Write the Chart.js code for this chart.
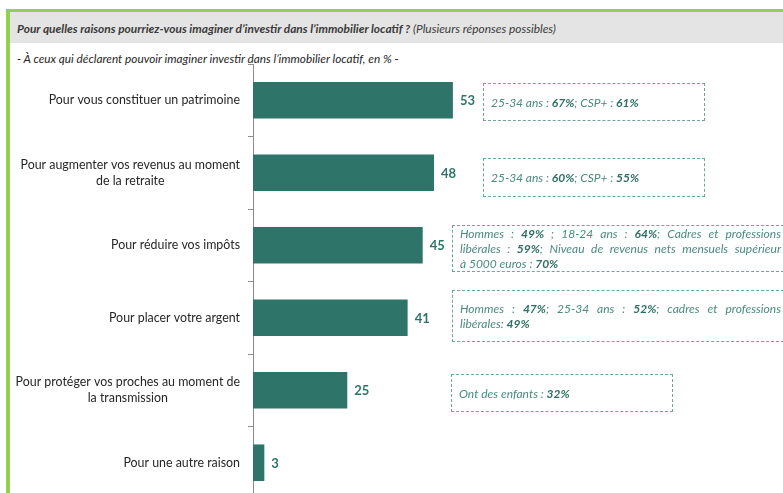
<!DOCTYPE html>
<html>
<head>
<meta charset="utf-8">
<script src="https://cdn.jsdelivr.net/npm/chart.js@4.4.1/dist/chart.umd.min.js"></script>
<style>
  html, body { margin: 0; padding: 0; width: 783px; height: 493px; overflow: hidden; background: #fff; }
  #frame { position: absolute; left: 6px; top: 9px; width: 800px; height: 520px;
           border-top: 3px solid #92D050; border-left: 4px solid #92D050; }
  #band { position: absolute; left: 10px; top: 12px; width: 790px; height: 31px; background: #E4E4E4; }
  #title { position: absolute; left: 17px; top: 21px; font-family: Lato, sans-serif; font-size: 11.9px;
           font-style: italic; color: #3a3a3a; white-space: nowrap; }
  #title b { font-weight: 700; }
  #subtitle { position: absolute; left: 17px; top: 51px; font-family: Lato, sans-serif; font-size: 11.8px;
              font-style: italic; color: #262626; white-space: nowrap; }
  canvas { position: absolute; left: 0; top: 0; }
  .note { position: absolute; box-sizing: border-box; border: 1px dashed #6FA59C;
          display: flex; flex-direction: column; justify-content: center;
          font-family: Lato, sans-serif; font-size: 12px; font-style: italic; color: #4A8A7F;
          line-height: 15px; padding: 0 7px; white-space: nowrap; }
  .note b { color: #2E6F63; font-weight: 700; }
  .note .j { text-align: justify; text-align-last: justify; }
</style>
</head>
<body>
<div id="frame"></div>
<div id="band"></div>
<div id="title"><b>Pour quelles raisons pourriez-vous imaginer d’investir dans l’immobilier locatif ?</b> (Plusieurs réponses possibles)</div>
<div id="subtitle">- À ceux qui déclarent pouvoir imaginer investir dans l’immobilier locatif, en % -</div>
<canvas id="c" width="783" height="510"></canvas>
<div id="notes"></div>
<script>
// ---- data ----
const categories = [
  ["Pour vous constituer un patrimoine"],
  ["Pour augmenter vos revenus au moment", "de la retraite"],
  ["Pour réduire vos impôts"],
  ["Pour placer votre argent"],
  ["Pour protéger vos proches au moment de", "la transmission"],
  ["Pour une autre raison"]
];
const values = [53, 48, 45, 41, 25, 3];
const noteLines = [
  ["25-34 ans : <b>67%</b>; CSP+ : <b>61%</b>"],
  ["25-34 ans : <b>60%</b>; CSP+ : <b>55%</b>"],
  ["Hommes : <b>49%</b> ; 18-24 ans : <b>64%</b>; Cadres et professions",
   "libérales : <b>59%</b>; Niveau de revenus nets mensuels supérieur",
   "à 5000 euros : <b>70%</b>"],
  ["Hommes : <b>47%</b>; 25-34 ans : <b>52%</b>; cadres et professions",
   "libérales: <b>49%</b>"],
  ["Ont des enfants : <b>32%</b>"],
  null
];

// ---- note boxes (layout) ----
const noteBoxes = [
  {left: 483, top: 83, width: 222, height: 38},
  {left: 483, top: 158, width: 222, height: 39},
  {left: 452, top: 225, width: 337, height: 47},
  {left: 452, top: 290, width: 337, height: 52},
  {left: 451, top: 374, width: 222, height: 38}
];
const notesDiv = document.getElementById('notes');
noteLines.forEach((lines, i) => {
  if (!lines) return;
  const b = noteBoxes[i];
  const d = document.createElement('div');
  d.className = 'note';
  d.style.left = b.left + 'px'; d.style.top = b.top + 'px';
  d.style.width = b.width + 'px'; d.style.height = b.height + 'px';
  d.innerHTML = lines.map((l, k) =>
    '<div class="' + (lines.length > 1 && k < lines.length - 1 ? 'j' : '') + '">' + l + '</div>').join('');
  notesDiv.appendChild(d);
});

const BAR = '#2E7468';

const catLabels = {
  id: 'catLabels',
  afterDraw(chart) {
    const ctx = chart.ctx, ys = chart.scales.y;
    ctx.save();
    ctx.font = '12.4px Lato, sans-serif';
    ctx.fillStyle = '#262626';
    ctx.textAlign = 'center';
    ctx.textBaseline = 'middle';
    const right = ys.right - 13, lh = 16;
    chart.data.labels.forEach((lines, i) => {
      const yc = ys.getPixelForValue(i);
      const maxW = Math.max(...lines.map(l => ctx.measureText(l).width));
      const cx = right - maxW / 2;
      lines.forEach((l, k) => {
        ctx.fillText(l, cx, yc + (k - (lines.length - 1) / 2) * lh);
      });
    });
    ctx.restore();
  }
};

const valueLabels = {
  id: 'valueLabels',
  afterDatasetsDraw(chart) {
    const ctx = chart.ctx;
    const meta = chart.getDatasetMeta(0);
    ctx.save();
    ctx.font = 'bold 13px Lato, sans-serif';
    ctx.fillStyle = BAR;
    ctx.textAlign = 'left';
    ctx.textBaseline = 'middle';
    meta.data.forEach((bar, i) => {
      ctx.fillText(String(chart.data.datasets[0].data[i]), bar.x + 7, bar.y + 1);
    });
    ctx.restore();
  }
};

new Chart(document.getElementById('c'), {
  type: 'bar',
  data: {
    labels: categories,
    datasets: [{
      data: values,
      backgroundColor: BAR,
      borderWidth: 0,
      categoryPercentage: 1,
      barPercentage: 0.505
    }]
  },
  options: {
    indexAxis: 'y',
    responsive: false,
    animation: false,
    devicePixelRatio: 1,
    layout: { padding: { top: 64, bottom: 11, right: 2, left: 0 } },
    plugins: { legend: { display: false }, tooltip: { enabled: false } },
    scales: {
      x: { type: 'linear', min: 0, max: 140, display: false },
      y: {
        type: 'category',
        offset: true,
        grid: { display: true, offset: true, drawOnChartArea: false, drawTicks: true, tickLength: 5, color: '#8c8c8c' },
        border: { display: true, color: '#8c8c8c', width: 1 },
        ticks: { display: false },
        afterFit(scale) { scale.width = 253; }
      }
    }
  },
  plugins: [catLabels, valueLabels]
});
</script>
</body>
</html>
